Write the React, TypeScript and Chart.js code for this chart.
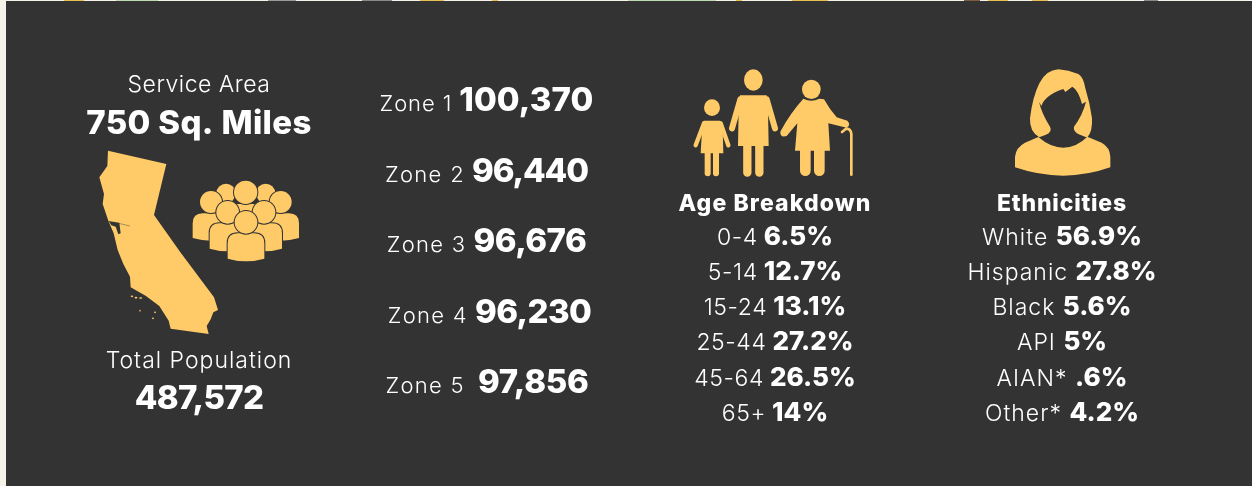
import React, { useEffect, useRef } from "react";
import { Chart, registerables } from "chart.js";

Chart.register(...registerables);

const serviceLabel = "Service Area";
const serviceValue = "750 Sq. Miles";
const populationLabel = "Total Population";
const populationValue = "487,572";
const zoneLabels = ["Zone 1", "Zone 2", "Zone 3", "Zone 4", "Zone 5"];
const zoneValues = ["100,370", "96,440", "96,676", "96,230", "97,856"];
const ageTitle = "Age Breakdown";
const ageLabels = ["0-4", "5-14", "15-24", "25-44", "45-64", "65+"];
const ageValues = ["6.5%", "12.7%", "13.1%", "27.2%", "26.5%", "14%"];
const ethnicityTitle = "Ethnicities";
const ethnicityLabels = ["White", "Hispanic", "Black", "API", "AIAN*", "Other*"];
const ethnicityValues = ["56.9%", "27.8%", "5.6%", "5%", ".6%", "4.2%"];

const BG = "#333333";
const PAGE = "#f5f2ea";
const GOLD = "#ffcb69";
const FONT = "Inter, 'Open Sans', sans-serif";
const zoneBaselines = [111, 182, 252, 323, 393];
const zoneCenters = [486.5, 486.5, 486.5, 489.5, 487];
const zoneValueSpacing = [0.1, -1.1, -0.5, -0.6, -0.3];
const rowBaselines = [245, 280, 315, 350, 386, 421];
const topSlivers: [number, number, string][] = [
  [64, 20, "#e8c050"], [116, 42, "#bcdcb0"], [268, 28, "#9a9a9a"], [362, 30, "#8a8a8a"],
  [420, 24, "#e8c050"], [492, 6, "#e8c050"], [628, 88, "#bcdcb0"], [736, 6, "#e8c050"],
  [792, 36, "#e8c050"], [964, 16, "#7a5a40"], [988, 20, "#e8c050"], [1032, 16, "#e8c050"],
  [1144, 14, "#8a8a8a"],
];

type Ctx = CanvasRenderingContext2D;

function segment(ctx: Ctx, text: string, weight: number, size: number, spacing: number) {
  ctx.font = `${weight} ${size}px ${FONT}`;
  (ctx as any).letterSpacing = `${spacing}px`;
  return ctx.measureText(text).width;
}

function row(ctx: Ctx, cx: number, y: number, light: string, bold: string, lightSize: number, boldSize: number, gap: number, lightSpacing = 0.6, boldSpacing = 0) {
  const lw = light ? segment(ctx, light, 300, lightSize, lightSpacing) : 0;
  const bw = bold ? segment(ctx, bold, 800, boldSize, boldSpacing) : 0;
  const g = light && bold ? gap : 0;
  let x = cx - (lw + g + bw) / 2;
  ctx.fillStyle = "#ffffff";
  ctx.textAlign = "left";
  ctx.textBaseline = "alphabetic";
  if (light) {
    segment(ctx, light, 300, lightSize, lightSpacing);
    ctx.fillText(light, x, y);
    x += lw + g;
  }
  if (bold) {
    segment(ctx, bold, 800, boldSize, boldSpacing);
    ctx.fillText(bold, x, y);
  }
}

function zoomSpace(ctx: Ctx, ox: number, oy: number, draw: () => void) {
  ctx.save();
  ctx.translate(ox, oy);
  ctx.scale(1 / 3, 1 / 3);
  draw();
  ctx.restore();
}

function california(ctx: Ctx) {
  zoomSpace(ctx, 80, 60, () => {
    ctx.fillStyle = GOLD;
    const p = new Path2D(
      "M84 272 L259 312 L222 465 L300 575 L402 712 L414 750 L400 757 L392 778 L380 798 L386 822 L272 806 L266 782 L238 738 L198 708 L152 682 L150 650 L130 612 L113 570 L101 520 L85 482 L68 432 L72 402 L58 352 L82 318 Z"
    );
    ctx.fill(p);
    ctx.fillStyle = BG;
    ctx.fill(new Path2D("M86 483 L108 487 L118 488 L122 520 L115 523 L107 500 L94 496 Z"));
    ctx.strokeStyle = BG;
    ctx.lineWidth = 1.2;
    ctx.beginPath();
    ctx.moveTo(116, 490);
    ctx.lineTo(150, 498);
    ctx.stroke();
    ctx.fillStyle = GOLD;
    [[156, 709, 4], [168, 713, 4], [182, 714, 5], [180, 752, 2], [225, 757, 3], [219, 775, 3]].forEach(([x, y, r]) => {
      ctx.beginPath();
      ctx.ellipse(x, y, r, 2.5, 0, 0, Math.PI * 2);
      ctx.fill();
    });
  });
}

function person(ctx: Ctx, cx: number, headY: number, r: number, top: number, w: number, bottom: number) {
  ctx.lineWidth = 6;
  ctx.strokeStyle = BG;
  ctx.fillStyle = GOLD;
  ctx.beginPath();
  ctx.moveTo(cx - w, bottom - 8);
  ctx.lineTo(cx - w, top + w * 0.55);
  ctx.quadraticCurveTo(cx - w, top, cx - w * 0.45, top);
  ctx.lineTo(cx + w * 0.45, top);
  ctx.quadraticCurveTo(cx + w, top, cx + w, top + w * 0.55);
  ctx.lineTo(cx + w, bottom - 8);
  ctx.quadraticCurveTo(cx, bottom + 8, cx - w, bottom - 8);
  ctx.closePath();
  ctx.stroke();
  ctx.fill();
  ctx.beginPath();
  ctx.arc(cx, headY, r, 0, Math.PI * 2);
  ctx.stroke();
  ctx.fill();
}

function crowd(ctx: Ctx) {
  zoomSpace(ctx, 80, 60, () => {
    person(ctx, 438, 400, 29, 430, 45, 500);
    person(ctx, 557, 400, 29, 430, 45, 500);
    person(ctx, 497, 397, 35, 432, 50, 510);
    person(ctx, 393, 426, 33, 460, 55, 542);
    person(ctx, 602, 426, 33, 460, 55, 542);
    person(ctx, 443, 457, 34, 490, 54, 574);
    person(ctx, 552, 457, 34, 490, 54, 574);
    person(ctx, 498, 487, 34, 520, 55, 604);
  });
}

function family(ctx: Ctx) {
  zoomSpace(ctx, 680, 60, () => {
    ctx.fillStyle = GOLD;
    ctx.strokeStyle = GOLD;
    ctx.lineCap = "round";
    ctx.lineJoin = "round";
    const head = (x: number, y: number, rx: number, ry: number) => {
      ctx.beginPath();
      ctx.ellipse(x, y, rx, ry, 0, 0, Math.PI * 2);
      ctx.fill();
    };
    const limb = (x1: number, y1: number, x2: number, y2: number, w: number) => {
      ctx.lineWidth = w;
      ctx.beginPath();
      ctx.moveTo(x1, y1);
      ctx.lineTo(x2, y2);
      ctx.stroke();
    };
    head(96, 143, 24, 25);
    ctx.fill(new Path2D("M72 182 L120 182 L128 205 L130 280 L62 280 L66 210 Z"));
    limb(72, 190, 47, 256, 13);
    limb(122, 190, 145, 256, 13);
    limb(83, 280, 83, 340, 18);
    limb(108, 280, 108, 340, 18);

    head(220, 60, 28, 32);
    ctx.fill(new Path2D("M180 106 L260 106 L264 150 L266 258 L174 258 L176 150 Z"));
    limb(181, 118, 156, 205, 18);
    limb(260, 118, 285, 205, 18);
    limb(202, 258, 202, 338, 25);
    limb(238, 258, 238, 338, 25);

    head(394, 88, 28, 29);
    ctx.fill(new Path2D(
      "M370 116 Q394 128 418 116 L432 118 Q450 150 470 172 L502 182 Q514 195 500 203 L445 190 L450 272 L345 272 L352 190 L320 228 Q300 234 301 215 Q330 160 370 116 Z"
    ));
    limb(376, 270, 376, 332, 32);
    limb(418, 270, 418, 332, 32);
    ctx.lineWidth = 8;
    ctx.beginPath();
    ctx.moveTo(514, 344);
    ctx.lineTo(514, 222);
    ctx.quadraticCurveTo(512, 205, 498, 206);
    ctx.lineTo(486, 216);
    ctx.stroke();
  });
}

function portrait(ctx: Ctx) {
  zoomSpace(ctx, 1000, 60, () => {
    ctx.fillStyle = GOLD;
    ctx.fill(new Path2D(
      "M118 232 Q88 215 90 175 Q98 110 118 70 Q138 30 175 28 Q205 30 235 42 Q250 50 256 85 Q270 130 276 175 Q278 215 262 232 Z"
    ));
    ctx.fillStyle = BG;
    ctx.fill(new Path2D(
      "M117 125 L124 138 Q135 105 190 87 L196 96 L217 80 Q235 90 246 132 L258 125 Q248 165 222 200 Q218 215 240 224 L270 236 L190 275 L105 236 L138 224 Q158 215 150 200 Q125 160 117 125 Z"
    ));
    ctx.fillStyle = GOLD;
    ctx.fill(new Path2D(
      "M45 322 L45 290 Q48 262 75 248 L115 231 Q150 262 190 263 Q230 262 262 230 L305 248 Q330 262 331 290 L331 322 Q190 372 45 322 Z"
    ));
  });
}

const infographic = {
  id: "infographic",
  beforeDraw(chart: Chart) {
    const ctx = chart.ctx as Ctx;
    const { width, height } = chart;
    ctx.save();
    ctx.fillStyle = PAGE;
    ctx.fillRect(0, 0, width, height);
    topSlivers.forEach(([x, w, color]) => {
      ctx.fillStyle = color;
      ctx.fillRect(x, 0, w, 1);
    });
    ctx.fillStyle = BG;
    ctx.fillRect(6, 1, width - 6, height - 1);
    california(ctx);
    crowd(ctx);
    family(ctx);
    portrait(ctx);

    row(ctx, 199, 92, serviceLabel, "", 23, 0, 0, 0.5);
    row(ctx, 199, 134, "", serviceValue, 0, 33, 0, 0, 0.35);
    row(ctx, 199, 368, populationLabel, "", 23, 0, 0, 1);
    row(ctx, 199, 409, "", populationValue, 0, 33, 0, 0, -0.7);

    zoneLabels.forEach((label, i) => {
      row(ctx, zoneCenters[i], zoneBaselines[i], label, zoneValues[i], 22, 33, i === 4 ? 13 : 7, i === 0 ? 0.9 : 1.3, zoneValueSpacing[i]);
    });
    row(ctx, 775, 211, "", ageTitle, 0, 23, 0, 0, 1.1);
    ageLabels.forEach((label, i) => {
      row(ctx, 775, rowBaselines[i], label, ageValues[i], 23, 26, 6);
    });
    row(ctx, 1062, 211, "", ethnicityTitle, 0, 23, 0, 0, 0.8);
    ethnicityLabels.forEach((label, i) => {
      row(ctx, 1062, rowBaselines[i], label, ethnicityValues[i], 23, 26, 7.5, 1);
    });
    ctx.restore();
  },
};

export default function App() {
  const ref = useRef<HTMLCanvasElement>(null);
  useEffect(() => {
    document.body.style.margin = "0";
    const chart = new Chart(ref.current!, {
      type: "scatter",
      data: { datasets: [{ data: [], pointRadius: 0 }] },
      options: {
        animation: false,
        responsive: false,
        layout: { padding: 0 },
        scales: { x: { display: false }, y: { display: false } },
        plugins: { legend: { display: false }, tooltip: { enabled: false } },
      },
      plugins: [infographic],
    });
    return () => chart.destroy();
  }, []);
  return <canvas ref={ref} width={1252} height={486} style={{ display: "block" }} />;
}
